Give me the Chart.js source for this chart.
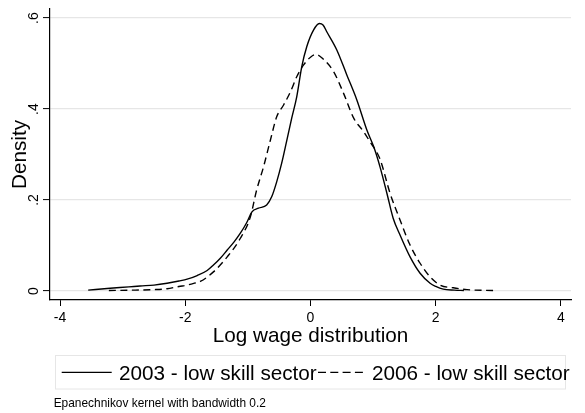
<!DOCTYPE html>
<html>
<head>
<meta charset="utf-8">
<script src="https://cdn.jsdelivr.net/npm/chart.js@4/dist/chart.umd.min.js"></script>
<style>
  html, body { margin: 0; padding: 0; background: #fff; }
  #wrap { position: relative; width: 585px; height: 413px; overflow: hidden;
          font-family: "Liberation Sans", Arial, sans-serif; color: #000; }
  #chart { position: absolute; left: 0; top: 0; }
  #keys { position: absolute; left: 0; top: 0; }
  .lbl { position: absolute; white-space: nowrap; font-size: 20.7px; line-height: 20.7px; }
  #note { position: absolute; left: 53.7px; top: 397.5px; font-size: 11.9px; line-height: 11.9px; white-space: nowrap; }
</style>
</head>
<body>
<div id="wrap">
  <canvas id="chart" width="585" height="413"></canvas>
  <svg id="keys" width="585" height="413">
    <rect x="55.5" y="355.5" width="510" height="33.5" fill="none" stroke="#e6e6e6" stroke-width="1"/>
    <line x1="61.7" y1="372.3" x2="111.7" y2="372.3" stroke="#000" stroke-width="1.3"/>
    <line x1="318" y1="372.3" x2="367" y2="372.3" stroke="#000" stroke-width="1.3" stroke-dasharray="8 4.3"/>
  </svg>
  <div class="lbl" id="lbl1" style="left:119px; top:362.5px;"></div>
  <div class="lbl" id="lbl2" style="left:372px; top:362.5px;"></div>
  <div id="note"></div>
</div>
<script>
// Kernel density estimates of log wages, low skill sector
const seriesNames = ['2003 - low skill sector', '2006 - low skill sector'];

const wage2003 = [-3.55, -3.2, -2.9, -2.72, -2.5, -2.29, -2.1, -1.97, -1.81, -1.65, -1.55, -1.44, -1.33,
  -1.22, -1.12, -1.02, -0.935, -0.83, -0.7, -0.62, -0.54, -0.46, -0.38, -0.3, -0.22, -0.14, -0.06,
  0.05, 0.14, 0.2, 0.26, 0.42, 0.58, 0.74, 0.9, 1.01, 1.11, 1.22, 1.32, 1.43, 1.59, 1.75, 1.91,
  2.0, 2.12, 2.3, 2.45];
const density2003 = [0.002, 0.006, 0.009, 0.011, 0.013, 0.017, 0.022, 0.026, 0.034, 0.045, 0.057, 0.072, 0.09,
  0.108, 0.127, 0.15, 0.174, 0.182, 0.189, 0.207, 0.24, 0.281, 0.33, 0.38, 0.427, 0.493, 0.537,
  0.574, 0.588, 0.585, 0.57, 0.53, 0.475, 0.42, 0.354, 0.317, 0.273, 0.215, 0.16, 0.123, 0.075, 0.039, 0.017,
  0.01, 0.004, 0.002, 0.001];

const wage2006 = [-3.22, -2.8, -2.5, -2.29, -2.1, -1.97, -1.81, -1.76, -1.55, -1.33, -1.12, -0.96, -0.86,
  -0.75, -0.64, -0.54, -0.43, -0.32, -0.22, -0.11, 0.0, 0.09, 0.21, 0.37, 0.53, 0.69, 0.85, 0.95,
  1.11, 1.27, 1.43, 1.59, 1.75, 1.91, 2.07, 2.28, 2.5, 2.92];
const density2006 = [0.001, 0.002, 0.003, 0.005, 0.01, 0.013, 0.019, 0.021, 0.042, 0.075, 0.116, 0.163, 0.222,
  0.273, 0.332, 0.383, 0.409, 0.438, 0.471, 0.497, 0.514, 0.52, 0.509, 0.482, 0.434, 0.38, 0.35, 0.328,
  0.29, 0.215, 0.156, 0.101, 0.061, 0.031, 0.013, 0.007, 0.003, 0.001];

const xTicks = [-4, -2, 0, 2, 4];
const xTickLabels = ['-4', '-2', '0', '2', '4'];
const yTicks = [0, 0.2, 0.4, 0.6];
const yTickLabels = ['0', '.2', '.4', '.6'];

const xTitle = 'Log wage distribution';
const yTitle = 'Density';
const noteText = 'Epanechnikov kernel with bandwidth 0.2';

const FONT = '"Liberation Sans", Arial, sans-serif';

document.getElementById('lbl1').textContent = seriesNames[0];
document.getElementById('lbl2').textContent = seriesNames[1];
document.getElementById('note').textContent = noteText;

const toPoints = (xs, ys) => xs.map((x, i) => ({ x: x, y: ys[i] }));

// Vertical tick labels on the density axis, read bottom to top
const rotatedYLabels = {
  id: 'rotatedYLabels',
  afterDraw(chart) {
    const s = chart.scales.y;
    const ctx = chart.ctx;
    ctx.save();
    ctx.fillStyle = '#000';
    ctx.font = '14px ' + FONT;
    ctx.textAlign = 'center';
    ctx.textBaseline = 'alphabetic';
    yTicks.forEach((v, i) => {
      const py = s.getPixelForValue(v);
      ctx.save();
      ctx.translate(37.7, py);
      ctx.rotate(-Math.PI / 2);
      ctx.fillText(yTickLabels[i], 0, 0);
      ctx.restore();
    });
    ctx.restore();
  }
};

new Chart(document.getElementById('chart'), {
  type: 'line',
  data: {
    datasets: [
      {
        label: seriesNames[0],
        data: toPoints(wage2003, density2003),
        borderColor: '#000',
        borderWidth: 1.4,
        pointRadius: 0,
        fill: false,
        cubicInterpolationMode: 'monotone'
      },
      {
        label: seriesNames[1],
        data: toPoints(wage2006, density2006),
        borderColor: '#000',
        borderWidth: 1.4,
        borderDash: [7, 4.5],
        pointRadius: 0,
        fill: false,
        cubicInterpolationMode: 'monotone'
      }
    ]
  },
  options: {
    responsive: false,
    animation: false,
    devicePixelRatio: 1,
    layout: { padding: { left: 0, right: 14, top: 9, bottom: 64 } },
    plugins: { legend: { display: false }, tooltip: { enabled: false } },
    scales: {
      x: {
        type: 'linear',
        min: -4.16,
        max: 4.16,
        afterBuildTicks: s => { s.ticks = xTicks.map(v => ({ value: v })); },
        afterFit: s => { s.height = 49; },
        ticks: {
          color: '#000',
          font: { family: FONT, size: 14 },
          padding: 4,
          maxRotation: 0,
          autoSkip: false,
          callback: (v, i) => xTickLabels[i]
        },
        grid: { drawOnChartArea: false, tickLength: 6, tickColor: '#000', tickWidth: 1 },
        border: { color: '#000', width: 1.2 },
        title: {
          display: true, text: xTitle, color: '#000',
          font: { family: FONT, size: 20.7 }, padding: { top: 0, bottom: 0 }
        }
      },
      y: {
        type: 'linear',
        min: -0.0198,
        max: 0.62,
        afterBuildTicks: s => { s.ticks = yTicks.map(v => ({ value: v })); },
        afterFit: s => { s.width = 50; },
        ticks: { display: false },
        grid: { color: '#e6e6e6', lineWidth: 1.2, tickLength: 7, tickColor: '#000', tickWidth: 1 },
        border: { color: '#000', width: 1.2 },
        title: {
          display: true, text: yTitle, color: '#000',
          font: { family: FONT, size: 20.7 }, padding: { top: 7.6, bottom: 0 }
        }
      }
    }
  },
  plugins: [rotatedYLabels]
});
</script>
</body>
</html>
